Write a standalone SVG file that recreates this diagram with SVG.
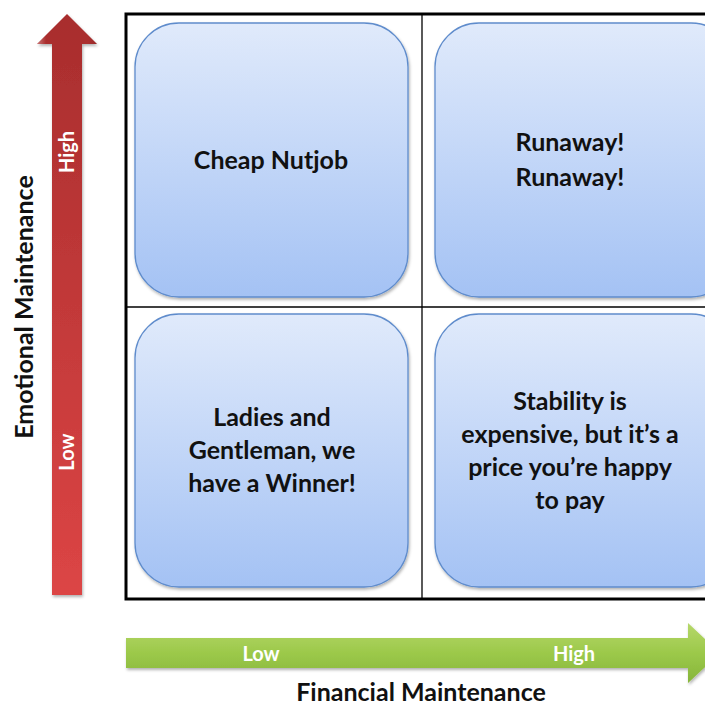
<svg xmlns="http://www.w3.org/2000/svg" width="705" height="706" viewBox="0 0 705 706">
<defs>
<linearGradient id="boxg" x1="0" y1="0" x2="0" y2="1">
<stop offset="0" stop-color="#e0eafb"/>
<stop offset="1" stop-color="#a4c2f4"/>
</linearGradient>
<linearGradient id="redg" x1="0" y1="0" x2="0" y2="1">
<stop offset="0" stop-color="#a82d2d"/>
<stop offset="1" stop-color="#dc4545"/>
</linearGradient>
<linearGradient id="redh" x1="0" y1="0" x2="1" y2="0">
<stop offset="0" stop-color="#ffffff" stop-opacity="0.35"/>
<stop offset="0.15" stop-color="#ffffff" stop-opacity="0"/>
<stop offset="0.85" stop-color="#000000" stop-opacity="0"/>
<stop offset="1" stop-color="#000000" stop-opacity="0.12"/>
</linearGradient>
<linearGradient id="greeng" x1="0" y1="0" x2="0" y2="1">
<stop offset="0" stop-color="#b6d86a"/>
<stop offset="0.5" stop-color="#9cc94a"/>
<stop offset="1" stop-color="#86b53a"/>
</linearGradient>
<filter id="sh" x="-10%" y="-10%" width="120%" height="120%">
<feDropShadow dx="1" dy="2" stdDeviation="1.5" flood-color="#000" flood-opacity="0.3"/>
</filter>
</defs>
<style>
.box{fill:url(#boxg);stroke:#5f8ccc;stroke-width:1.3;filter:url(#sh)}
.t{font-family:Lato,"Open Sans","Liberation Sans",sans-serif;font-weight:bold;font-size:25px;fill:#111;text-anchor:middle}
.w{font-family:Lato,"Open Sans","Liberation Sans",sans-serif;font-weight:bold;font-size:20px;fill:#fff;text-anchor:middle}
.ax{font-family:Lato,"Open Sans","Liberation Sans",sans-serif;font-weight:bold;font-size:25px;fill:#111;text-anchor:middle}
</style>
<rect width="705" height="706" fill="#fff"/>
<g id="grid">
<rect x="126" y="14" width="620" height="585" fill="none" stroke="#000" stroke-width="3"/>
<line x1="422" y1="14" x2="422" y2="599" stroke="#000" stroke-width="1.3"/>
<line x1="126" y1="307" x2="705" y2="307" stroke="#000" stroke-width="1.3"/>
</g>
<g id="y-axis">
<path d="M52,595 L52,44 L37,44 L67,14 L97,44 L82,44 L82,595 Z" fill="url(#redg)" filter="url(#sh)"/>
<path d="M52,595 L52,44 L37,44 L67,14 L97,44 L82,44 L82,595 Z" fill="url(#redh)"/>
<text class="w" transform="translate(74,152) rotate(-90)">High</text>
<text class="w" transform="translate(74,452) rotate(-90)">Low</text>
<text class="ax" transform="translate(33,307) rotate(-90)">Emotional Maintenance</text>
</g>
<g id="x-axis">
<path d="M126,638 L688,638 L688,623 L720,653 L688,683 L688,668 L126,668 Z" fill="url(#greeng)" filter="url(#sh)"/>
<text class="w" x="261" y="661">Low</text>
<text class="w" x="574" y="661">High</text>
<text class="ax" x="421" y="701">Financial Maintenance</text>
</g>
<g id="cheap-nutjob">
<rect class="box" x="135" y="23" width="273" height="274" rx="44"/>
<text class="t" x="271" y="169">Cheap Nutjob</text>
</g>
<g id="runaway">
<rect class="box" x="435" y="23" width="300" height="274" rx="44"/>
<text class="t" x="570" y="151">Runaway!</text>
<text class="t" x="570" y="186">Runaway!</text>
</g>
<g id="winner">
<rect class="box" x="135" y="314" width="273" height="273" rx="44"/>
<text class="t" x="272" y="426">Ladies and</text>
<text class="t" x="272" y="459">Gentleman, we</text>
<text class="t" x="272" y="492">have a Winner!</text>
</g>
<g id="stability">
<rect class="box" x="435" y="314" width="300" height="273" rx="44"/>
<text class="t" x="570" y="410">Stability is</text>
<text class="t" x="570" y="443">expensive, but it’s a</text>
<text class="t" x="570" y="476">price you’re happy</text>
<text class="t" x="570" y="509">to pay</text>
</g>
</svg>
